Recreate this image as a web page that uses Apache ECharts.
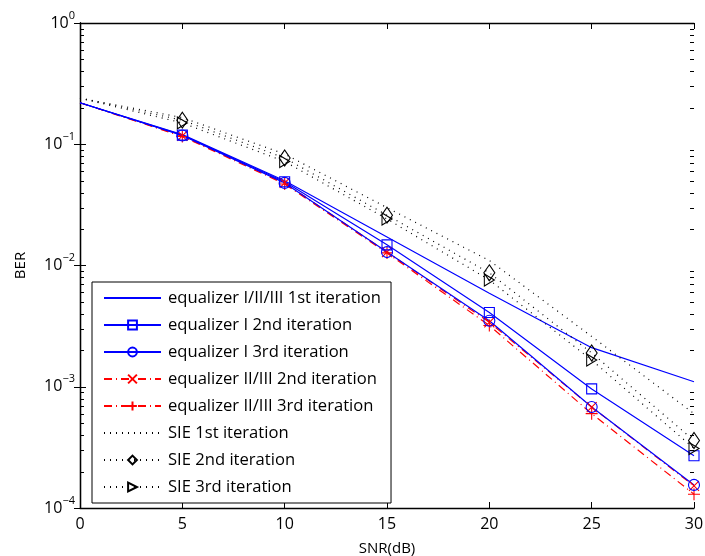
<!DOCTYPE html>
<html><head><meta charset="utf-8">
<script src="https://cdn.jsdelivr.net/npm/echarts@6/dist/echarts.min.js"></script>
<style>html,body{margin:0;padding:0;background:#fff}#c{width:705px;height:556px}</style>
</head><body><div id="c"></div>
<script>
const snr = [0, 5, 10, 15, 20, 25, 30];
const eq1st      = [0.22, 0.12,  0.050, 0.0172, 0.0059, 0.0021,  0.0011];
const eqI2nd     = [0.22, 0.119, 0.049, 0.0148, 0.0041, 0.00096, 0.00027];
const eqI3rd     = [0.22, 0.118, 0.048, 0.0129, 0.0035, 0.00068, 0.000155];
const eqII2nd    = [0.22, 0.117, 0.048, 0.0129, 0.0034, 0.00068, 0.000152];
const eqII3rd    = [0.22, 0.116, 0.047, 0.0127, 0.0032, 0.00060, 0.00013];
const sie1st     = [0.24, 0.166, 0.083, 0.030,  0.011,  0.0026,  0.0006];
const sie2nd     = [0.24, 0.158, 0.077, 0.026,  0.0087, 0.0019,  0.00036];
const sie3rd     = [0.24, 0.150, 0.072, 0.0242, 0.0076, 0.00166, 0.00031];
const names = ['equalizer I/II/III 1st iteration','equalizer I 2nd iteration','equalizer I 3rd iteration',
  'equalizer II/III 2nd iteration','equalizer II/III 3rd iteration','SIE 1st iteration','SIE 2nd iteration','SIE 3rd iteration'];
const minorTickValues = [];
for (let e = -4; e < 0; e++) for (let m = 2; m <= 9; m++) minorTickValues.push(m * Math.pow(10, e));

const FONT = 'Open Sans';
const BLUE = '#0000ff', RED = '#ff0000', BLACK = '#000000';
const crossPath = 'path://M0,0L10,10M10,0L0,10';
const plusPath = 'path://M5,0L5,10M0,5L10,5';

function mk(vals){ return snr.map((x,i)=> i===0 ? {value:[x, vals[i]], symbol:'none'} : [x, vals[i]]); }
function line(name, vals, color, type, symbol, size, extra){
  return Object.assign({
    name, type:'line', data: mk(vals), symbol: symbol || 'circle', symbolSize: size || 10,
    showSymbol: !!symbol, animation:false, z: 3,
    lineStyle:{color, width:1.2, type: type || 'solid'},
    itemStyle: symbol ? {color:'none', borderColor:color, borderWidth:1.1}
                      : {color:'none', borderColor:'none', borderWidth:0, opacity:0},
    emphasis:{disabled:true}
  }, extra||{});
}

const chart = echarts.init(document.getElementById('c'), null, {renderer:'canvas'});
const axisLine = {show:true, lineStyle:{color:'#000', width:1.3}};
chart.setOption({
  animation:false,
  textStyle:{fontFamily:FONT},
  grid:{left:80, right:11, top:23, bottom:48, containLabel:false, outerBoundsMode:'none'},
  legend:{
    data: names, orient:'vertical', left:92, top:282,
    backgroundColor:'#fff', borderColor:'#000', borderWidth:1,
    padding:[7, 10, 7, 11], itemWidth:57, itemHeight:11, itemGap:9,
    textStyle:{fontFamily:FONT, fontSize:16.6, color:'#000', lineHeight:18, padding:[0,0,0,2]},
    selectedMode:false
  },
  xAxis:[
    {type:'value', min:0, max:30, interval:5, position:'bottom',
     axisLine, axisTick:{inside:true, length:6, lineStyle:{color:'#000'}},
     axisLabel:{fontSize:16, color:'#000', margin:8, fontFamily:FONT},
     splitLine:{show:false},
     name:'SNR(dB)', nameLocation:'middle', nameGap:33,
     nameTextStyle:{fontSize:15, color:'#000', fontFamily:FONT}},
    {type:'value', min:0, max:30, interval:5, position:'top',
     axisLine, axisTick:{inside:true, length:6, lineStyle:{color:'#000'}},
     axisLabel:{show:false}, splitLine:{show:false}}
  ],
  yAxis:[
    {type:'log', logBase:10, min:1e-4, max:1, position:'left',
     axisLine, axisTick:{inside:true, length:6, lineStyle:{color:'#000'}},
     splitLine:{show:false}, minorTick:{show:false},
     axisLabel:{margin:5, color:'#000',
       formatter: v => '{b|10}{s|' + String(Math.round(Math.log10(v))).replace('-', '\u2212') + '}',
       rich:{b:{fontSize:16, fontFamily:FONT, color:'#000', lineHeight:26, verticalAlign:'middle'},
             s:{fontSize:11, fontFamily:FONT, color:'#000', lineHeight:26, verticalAlign:'top'}}},
     name:'BER', nameLocation:'middle', nameGap:52,
     nameTextStyle:{fontSize:15, color:'#000', fontFamily:FONT}},
    {type:'log', logBase:10, min:1e-4, max:1, position:'right',
     axisLine, axisTick:{inside:true, length:6, lineStyle:{color:'#000'}},
     axisLabel:{show:false}, splitLine:{show:false}}
  ],
  series:[
    {type:'custom', name:'minorTicks', silent:true, xAxisIndex:0, yAxisIndex:0, z:5,
     data: minorTickValues.map(v=>[0, v]), clip:false,
     renderItem:(params, api)=>{
       const y = Math.round(api.coord([0, api.value(1)])[1]) + 0.5;
       const cs = params.coordSys;
       return {type:'group', children:[
         {type:'line', shape:{x1:cs.x, y1:y, x2:cs.x+4, y2:y}, style:{stroke:'#000', lineWidth:1}},
         {type:'line', shape:{x1:cs.x+cs.width, y1:y, x2:cs.x+cs.width-4, y2:y}, style:{stroke:'#000', lineWidth:1}}
       ]};
     }},
    line(names[3], eqII2nd, RED, [8,4,1,4], crossPath, 10),
    line(names[4], eqII3rd, RED, [8,4,1,4], plusPath, 12),
    line(names[0], eq1st, BLUE, 'solid'),
    line(names[1], eqI2nd, BLUE, 'solid', 'rect', 10),
    line(names[2], eqI3rd, BLUE, 'solid', 'circle', 11),
    line(names[5], sie1st, BLACK, [1,5]),
    line(names[6], sie2nd, BLACK, [1,5], 'diamond', [11,16]),
    line(names[7], sie3rd, BLACK, [1,5], 'triangle', [12,10], {symbolRotate:-90})
  ]
});
</script></body></html>
